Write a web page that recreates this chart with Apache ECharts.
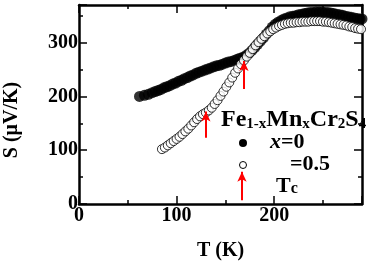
<!DOCTYPE html>
<html>
<head>
<meta charset="utf-8">
<script src="https://cdn.jsdelivr.net/npm/echarts@6/dist/echarts.min.js"></script>
<style>
  html, body { margin: 0; padding: 0; background: #fff; }
  #main { width: 368px; height: 270px; }
</style>
</head>
<body>
<div id="main"></div>
<script>
// x = 0 (filled)
var t0 = [62, 67, 71, 75, 78, 81, 84, 87, 90, 93, 96, 99, 102, 105, 108, 111, 114, 117, 120, 123, 126, 129, 132, 135, 138, 141, 144, 147, 150, 153, 156, 159, 162, 165, 168, 171, 174, 177, 180, 183, 186, 189, 192, 195, 198, 201, 204, 207, 210, 213, 216, 219, 222, 225, 228, 231, 234, 237, 240, 243, 246, 249, 252, 255, 258, 261, 264, 267, 270, 273, 276, 279, 282, 285, 288, 290];
var s0 = [200, 202, 204, 207, 209, 211, 213, 216, 218, 220, 223, 225, 228, 230, 233, 235, 238, 240, 243, 245, 247, 249, 251, 253, 255, 257, 258, 260, 262, 264, 265, 267, 269, 271, 273, 276, 280, 285, 291, 297, 303, 309, 316, 322, 329, 334, 338, 341, 344, 346, 348, 349, 350, 352, 353, 354, 355, 356, 356, 357, 357, 357, 356, 356, 355, 354, 353, 352, 351, 349, 348, 347, 346, 345, 344, 344];
// x = 0.5 (open)
var t5 = [85, 88, 91, 94, 97, 100, 103, 106, 109, 112, 115, 118, 121, 124, 127, 130, 133, 136, 139, 142, 145, 148, 151, 154, 157, 160, 163, 166, 169, 172, 175, 178, 181, 184, 187, 190, 193, 196, 199, 202, 205, 208, 211, 214, 217, 220, 223, 226, 229, 232, 235, 238, 241, 244, 247, 250, 253, 256, 259, 262, 265, 268, 271, 274, 277, 280, 283, 286, 289];
var s5 = [102, 105, 109, 113, 117, 121, 125, 130, 135, 140, 146, 152, 158, 163, 167, 170, 174, 179, 186, 193, 201, 209, 218, 226, 235, 244, 252, 260, 267, 274, 281, 288, 295, 301, 307, 312, 317, 321, 325, 328, 331, 333, 335, 336, 337, 337, 338, 338, 339, 339, 339, 340, 340, 340, 340, 339, 339, 338, 337, 336, 335, 334, 333, 332, 330, 329, 327, 326, 325];
// Tc arrows: [T, S from, S to]
var tcArrows = [[169, 214, 266], [130, 123, 172], [167, 7, 60]];

var xTicks = [0, 100, 200];
var yTicks = [0, 100, 200, 300];

function pairs(xs, ys) {
  return xs.map(function (x, i) { return [x, ys[i]]; });
}

var font = "'Liberation Serif', 'Times New Roman', serif";
var myChart = echarts.init(document.getElementById('main'));

function axisBase(extra) {
  var a = {
    type: 'value',
    splitLine: { show: false },
    axisLine: { show: true, onZero: false, lineStyle: { color: '#000', width: 2.5 } },
    axisTick: { show: true, inside: true, length: 8, lineStyle: { color: '#000', width: 1.5 } },
    minorTick: { show: true, splitNumber: 2, length: 4, lineStyle: { color: '#000', width: 1.5 } }
  };
  for (var k in extra) a[k] = extra[k];
  return a;
}

var option = {
  animation: false,
  textStyle: { fontFamily: font },
  grid: { left: 79, right: 6, top: 5, bottom: 66 },
  xAxis: [
    axisBase({
      min: 0, max: 290, interval: 100, position: 'bottom',
      name: 'T (K)', nameLocation: 'middle', nameGap: 37,
      nameTextStyle: { fontFamily: font, fontWeight: 'bold', fontSize: 20, color: '#000' },
      axisLabel: {
        fontFamily: font, fontWeight: 'bold', fontSize: 20, color: '#000', margin: 2,
        showMaxLabel: false,
        formatter: function (v) { return xTicks.indexOf(v) >= 0 ? String(v) : ''; }
      }
    }),
    axisBase({ min: 0, max: 290, interval: 100, position: 'top', axisLabel: { show: false } })
  ],
  yAxis: [
    axisBase({
      min: 0, max: 370, interval: 100, position: 'left',
      axisLabel: {
        fontFamily: font, fontWeight: 'bold', fontSize: 20, color: '#000', margin: 1,
        showMaxLabel: false,
        formatter: function (v) { return yTicks.indexOf(v) >= 0 ? String(v) : ''; }
      }
    }),
    axisBase({ min: 0, max: 370, interval: 100, position: 'right', axisLabel: { show: false } })
  ],
  series: [
    {
      name: 'x=0',
      type: 'scatter',
      data: pairs(t0, s0),
      symbol: 'circle',
      symbolSize: 11,
      itemStyle: { color: '#000' },
      z: 2
    },
    {
      name: 'x=0.5',
      type: 'scatter',
      data: pairs(t5, s5),
      symbol: 'circle',
      symbolSize: 9,
      itemStyle: { color: '#fff', borderColor: '#000', borderWidth: 1 },
      z: 3,
      markLine: {
        silent: true,
        symbol: ['none', 'arrow'],
        symbolSize: [7, 10],
        label: { show: false },
        lineStyle: { color: '#ff0000', width: 2, type: 'solid' },
        data: tcArrows.map(function (a) {
          return [{ coord: [a[0], a[1]] }, { coord: [a[0], a[2]] }];
        })
      }
    }
  ],
  graphic: [
    {
      type: 'text', x: 12, y: 120, rotation: Math.PI / 2,
      style: {
        text: 'S (μV/K)', font: "bold 20px 'Liberation Serif'", fill: '#000',
        align: 'center', verticalAlign: 'middle'
      }
    },
    {
      type: 'text', left: 221, top: 108,
      style: {
        text: 'Fe{sub|1-x}Mn{sub|x}Cr{sub|2}S{sub|4}',
        font: "bold 24px 'Liberation Serif'", fill: '#000',
        rich: {
          sub: { fontFamily: font, fontWeight: 'bold', fontSize: 15, verticalAlign: 'bottom', lineHeight: 10 }
        }
      }
    },
    { type: 'circle', shape: { cx: 243, cy: 143, r: 4 }, style: { fill: '#000' } },
    { type: 'circle', shape: { cx: 243, cy: 165, r: 3.5 }, style: { fill: '#fff', stroke: '#000', lineWidth: 1 } },
    {
      type: 'text', left: 270, top: 131,
      style: {
        text: '{i|x}=0',
        font: "bold 22px 'Liberation Serif'", fill: '#000',
        rich: { i: { fontFamily: font, fontWeight: 'bold', fontStyle: 'italic', fontSize: 22 } }
      }
    },
    {
      type: 'text', left: 290, top: 153,
      style: { text: '=0.5', font: "bold 22px 'Liberation Serif'", fill: '#000' }
    },
    {
      type: 'text', left: 276, top: 175,
      style: {
        text: 'T{sub|c}',
        font: "bold 22px 'Liberation Serif'", fill: '#000',
        rich: { sub: { fontFamily: font, fontWeight: 'bold', fontSize: 16, verticalAlign: 'bottom', lineHeight: 10 } }
      }
    }
  ]
};
myChart.setOption(option);
</script>
</body>
</html>
